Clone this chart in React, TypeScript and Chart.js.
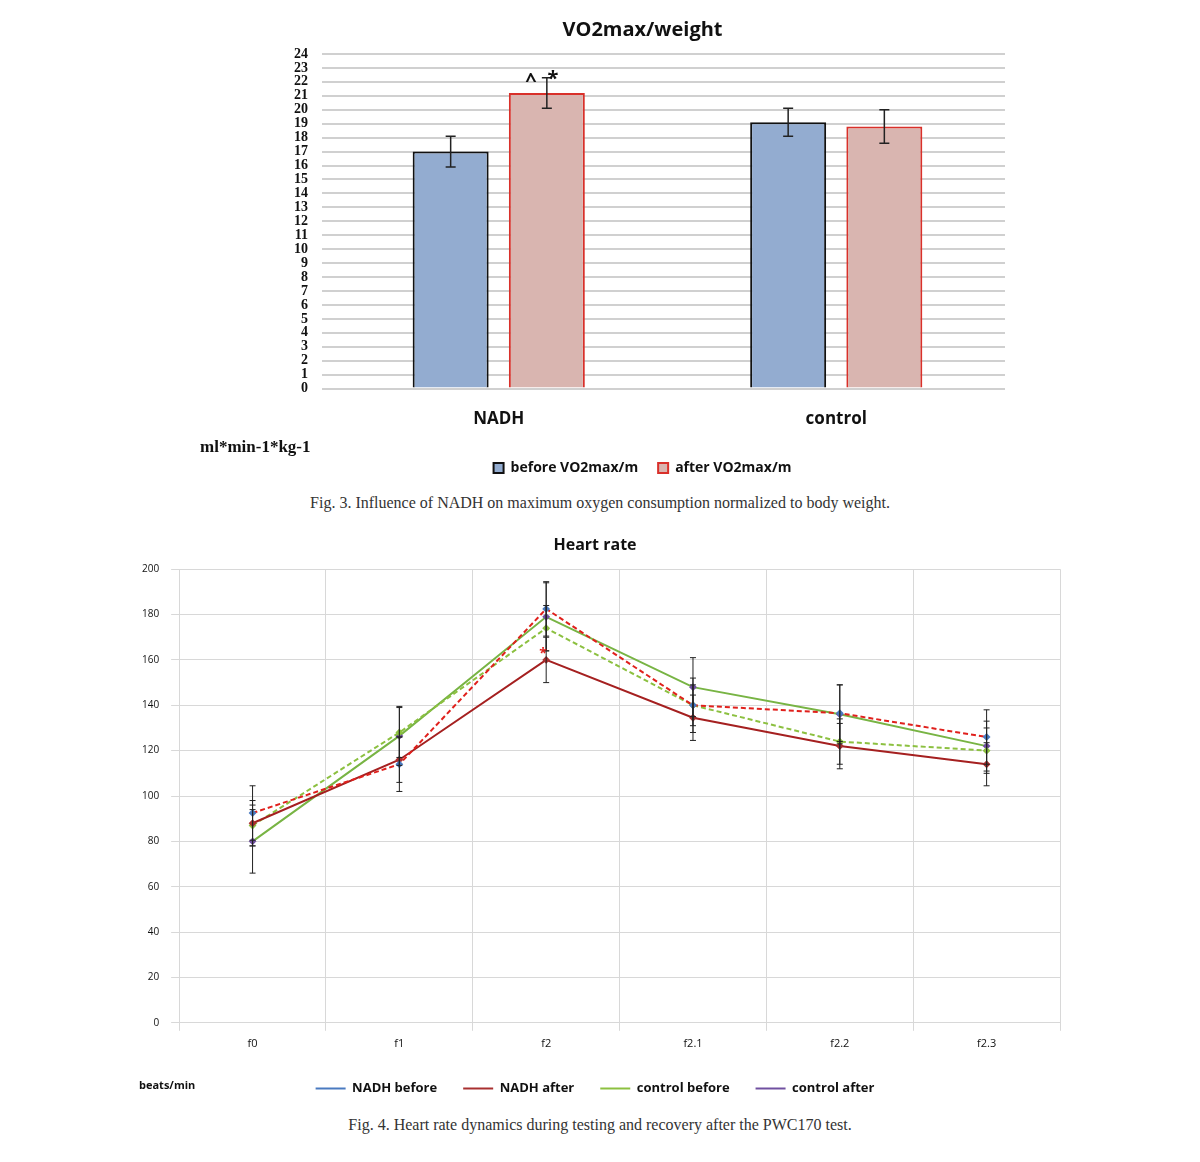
import React, { useEffect, useRef } from "react";
import { Chart, registerables } from "chart.js";
Chart.register(...registerables);

const barCategories = ["NADH", "control"];
const barBefore = [17.0, 19.1];
const barAfter = [21.2, 18.8];
const barBeforeErr = [1.1, 1.0];
const barAfterErr = [1.1, 1.2];

const hrCategories = ["f0", "f1", "f2", "f2.1", "f2.2", "f2.3"];
const nadhBefore = [92.5, 114, 182.5, 140, 136.5, 126];
const nadhAfter = [88, 116, 160, 134.5, 122, 114];
const controlBefore = [87, 128, 174, 140, 124, 120];
const controlAfter = [80, 126.5, 179, 148, 136, 122];
const nadhBeforeErr = [12, 12, 12, 12, 12.5, 12];
const nadhAfterErr = [10, 10, 10, 10, 10, 9.5];
const controlBeforeErr = [9, 11, 10, 9, 10, 10];
const controlAfterErr = [14, 13, 15, 13, 13, 11];

const errorBars = (errs: number[][], cap: number, width: number) => ({
  id: "errbars",
  afterDatasetsDraw(chart: any) {
    const ctx = chart.ctx;
    const y = chart.scales.y;
    ctx.save();
    ctx.strokeStyle = "#222";
    ctx.lineWidth = width;
    chart.data.datasets.forEach((ds: any, i: number) => {
      const meta = chart.getDatasetMeta(i);
      meta.data.forEach((el: any, j: number) => {
        const v = ds.data[j];
        const e = errs[i][j];
        const x = el.x;
        const yt = y.getPixelForValue(v + e);
        const yb = y.getPixelForValue(v - e);
        ctx.beginPath();
        ctx.moveTo(x, yt); ctx.lineTo(x, yb);
        ctx.moveTo(x - cap, yt); ctx.lineTo(x + cap, yt);
        ctx.moveTo(x - cap, yb); ctx.lineTo(x + cap, yb);
        ctx.stroke();
      });
    });
    ctx.restore();
  },
});

const barMarks = {
  id: "marks",
  afterDatasetsDraw(chart: any) {
    const ctx = chart.ctx;
    const el = chart.getDatasetMeta(1).data[0];
    const y = chart.scales.y.getPixelForValue(22.2);
    ctx.save();
    ctx.fillStyle = "#111";
    ctx.font = "bold 20px 'Open Sans'";
    ctx.textAlign = "center";
    ctx.textBaseline = "middle";
    ctx.fillText("^", el.x - 16, y + 2);
    ctx.fillText("*", el.x + 6, y);
    ctx.restore();
  },
};

const hrMark = {
  id: "hrmark",
  afterDatasetsDraw(chart: any) {
    const ctx = chart.ctx;
    const el = chart.getDatasetMeta(1).data[2];
    const y = chart.scales.y.getPixelForValue(164);
    ctx.save();
    ctx.fillStyle = "#e0201c";
    ctx.font = "bold 14px 'Open Sans'";
    ctx.textAlign = "center";
    ctx.textBaseline = "middle";
    ctx.fillText("*", el.x - 3, y + 3);
    ctx.restore();
  },
};

function TopChart() {
  const ref = useRef<HTMLCanvasElement>(null);
  useEffect(() => {
    const c = new Chart(ref.current!, {
      type: "bar",
      data: {
        labels: barCategories,
        datasets: [
          { label: "before VO2max/m", data: barBefore, backgroundColor: "#93acd0", borderColor: "#111", borderWidth: 2, barPercentage: 0.79, categoryPercentage: 0.57 },
          { label: "after VO2max/m", data: barAfter, backgroundColor: "#d9b5b0", borderColor: "#d9302a", borderWidth: 2, barPercentage: 0.79, categoryPercentage: 0.57 },
        ],
      },
      options: {
        animation: false, responsive: false,
        layout: { padding: { left: 100, right: 15, top: 0, bottom: 0 } },
        plugins: {
          title: { display: true, text: "VO2max/weight", color: "#111", font: { family: "'Open Sans'", size: 20, weight: "bold" }, padding: { top: 8, bottom: 12 } },
          legend: { position: "bottom", labels: { color: "#111", boxWidth: 10, boxHeight: 10, padding: 20, font: { family: "'Open Sans'", size: 14, weight: "bold" } } },
          tooltip: { enabled: false },
        },
        scales: {
          x: { grid: { display: false }, border: { display: false }, ticks: { color: "#111", padding: 12, font: { family: "'Open Sans'", size: 17, weight: "bold" } } },
          y: { min: 0, max: 24, border: { display: false }, grid: { color: "#d0d0d0", lineWidth: 2 },
            ticks: { stepSize: 1, autoSkip: false, color: "#111", padding: 14, font: { family: "'Liberation Serif'", size: 14, weight: "bold" } } },
        },
      },
      plugins: [errorBars([barBeforeErr, barAfterErr], 5, 1.5), barMarks],
    });
    return () => c.destroy();
  }, []);
  return <canvas ref={ref} width={840} height={475} style={{ position: "absolute", left: 180, top: 10 }} />;
}

function BottomChart() {
  const ref = useRef<HTMLCanvasElement>(null);
  useEffect(() => {
    const mk = (label: string, data: number[], color: string, pt: string, dash: number[]) => ({
      label, data, borderColor: color, backgroundColor: pt, pointBackgroundColor: pt, pointBorderColor: pt,
      borderWidth: 2, borderDash: dash, pointRadius: 2.5, pointStyle: "rectRot" as const, tension: 0,
    });
    const c = new Chart(ref.current!, {
      type: "line",
      data: {
        labels: hrCategories,
        datasets: [
          mk("NADH before", nadhBefore, "#e0201c", "#4a7ac0", [5, 3]),
          mk("NADH after", nadhAfter, "#a52020", "#a83030", []),
          mk("control before", controlBefore, "#8cc040", "#8cc040", [5, 3]),
          mk("control after", controlAfter, "#78b444", "#7050a0", []),
        ],
      },
      options: {
        animation: false, responsive: false,
        layout: { padding: { left: 10, right: 20, top: 0, bottom: 0 } },
        plugins: {
          title: { display: true, text: "Heart rate", color: "#111", font: { family: "'Open Sans'", size: 16, weight: "bold" }, padding: { top: 6, bottom: 14 } },
          legend: { position: "bottom", labels: { color: "#111", usePointStyle: true, pointStyle: "line", pointStyleWidth: 30, padding: 26, font: { family: "'Open Sans'", size: 13, weight: "bold" } } },
          tooltip: { enabled: false },
        },
        scales: {
          x: { offset: true, grid: { offset: true, color: "#d8d8d8" }, border: { color: "#d8d8d8" }, ticks: { color: "#111", padding: 6, font: { family: "'Open Sans'", size: 11 } } },
          y: { min: 0, max: 200, grid: { color: "#d8d8d8" }, border: { color: "#d8d8d8" },
            ticks: { stepSize: 20, color: "#111", padding: 12, font: { family: "'Open Sans'", size: 10 } } },
        },
      },
      plugins: [errorBars([nadhBeforeErr, nadhAfterErr, controlBeforeErr, controlAfterErr], 3, 1), hrMark],
    });
    return () => c.destroy();
  }, []);
  return <canvas ref={ref} width={960} height={575} style={{ position: "absolute", left: 120, top: 530 }} />;
}

export default function App() {
  return (
    <div style={{ position: "absolute", left: 0, top: 0, width: 1200, height: 1162, background: "#fff" }}>
      <TopChart />
      <div style={{ position: "absolute", left: 200, top: 437, font: "bold 17px 'Liberation Serif'", color: "#111" }}>ml*min-1*kg-1</div>
      <div style={{ position: "absolute", left: 0, width: 1200, top: 494, textAlign: "center", font: "16px 'Liberation Serif'", color: "#333" }}>
        Fig. 3. Influence of NADH on maximum oxygen consumption normalized to body weight.
      </div>
      <BottomChart />
      <div style={{ position: "absolute", left: 139, top: 1077, font: "bold 11px 'Open Sans'", color: "#111" }}>beats/min</div>
      <div style={{ position: "absolute", left: 0, width: 1200, top: 1116, textAlign: "center", font: "16px 'Liberation Serif'", color: "#333" }}>
        Fig. 4. Heart rate dynamics during testing and recovery after the PWC170 test.
      </div>
    </div>
  );
}
